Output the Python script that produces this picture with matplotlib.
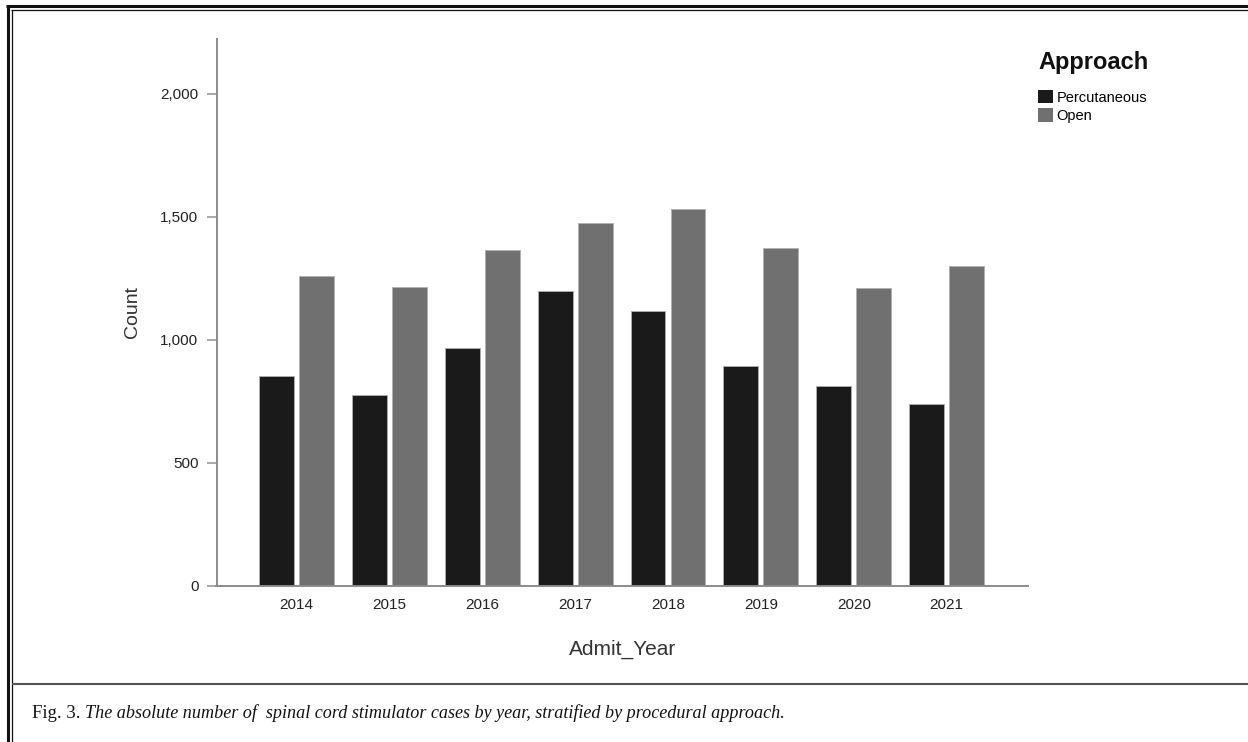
import numpy as np
import matplotlib.pyplot as plt
from matplotlib.lines import Line2D
from matplotlib.ticker import FuncFormatter

# data
years = ["2014", "2015", "2016", "2017", "2018", "2019", "2020", "2021"]
percutaneous = [851, 776, 964, 1196, 1115, 892, 810, 739]
open_cases = [1258, 1214, 1363, 1475, 1529, 1373, 1208, 1298]
series_names = ["Percutaneous", "Open"]
series_colors = ["#1a1a1a", "#707070"]

W, H = 1248, 742
plt.rcParams['font.family'] = ['Liberation Sans', 'DejaVu Sans']

fig = plt.figure(figsize=(W / 100, H / 100), dpi=100)
fig.patch.set_facecolor("white")

# axes placed in pixel terms
left, right, bottom, top = 216.5, 1028, 585.5, 39
ax = fig.add_axes([left / W, 1 - bottom / H, (right - left) / W, (bottom - top) / H])

x = np.arange(len(years))
bw = 0.376
off = 0.215
ax.bar(x - off, percutaneous, bw, color=series_colors[0], edgecolor="#b0b0b0",
       linewidth=0.6, label=series_names[0])
ax.bar(x + off, open_cases, bw, color=series_colors[1], edgecolor="#b0b0b0",
       linewidth=0.6, label=series_names[1])

ax.set_xlim(-0.86, len(years) - 1 + 0.875)
ax.set_ylim(0, 2222)
ax.set_yticks([0, 500, 1000, 1500, 2000])
ax.yaxis.set_major_formatter(FuncFormatter(lambda v, p: f"{int(v):,}"))
ax.set_xticks(x)
ax.set_xticklabels(years)

for s in ["top", "right"]:
    ax.spines[s].set_visible(False)
for s in ["left", "bottom"]:
    ax.spines[s].set_color("#8c8c8c")
    ax.spines[s].set_linewidth(1.4)

ax.tick_params(axis="y", length=7, width=1.2, color="#9a9a9a", labelsize=11,
               labelcolor="#222222", pad=6)
ax.tick_params(axis="x", length=0, labelsize=11, labelcolor="#222222", pad=9)

ax.set_ylabel("Count", fontsize=14, color="#333333", labelpad=14)
ax.set_xlabel("Admit_Year", fontsize=15, color="#333333", labelpad=20)

# legend at top right, title drawn as its own text
fig.text(1038 / W, 1 - 62 / H, "Approach", fontsize=17, fontweight="bold",
         color="#111111", ha="left", va="center")
handles, labels = ax.get_legend_handles_labels()
leg = fig.legend(handles, labels, loc="upper left",
                 bbox_to_anchor=(1031 / W, 1 - 83 / H), frameon=False,
                 fontsize=10.5, handlelength=1.0, handleheight=1.0,
                 handletextpad=0.25, labelspacing=0.25, borderpad=0)
for h in leg.legend_handles:
    h.set_edgecolor("none")

# page frame: double border on top and left, separator above caption
def fline(x0, y0, x1, y1, lw, color):
    fig.add_artist(Line2D([x0 / W, x1 / W], [1 - y0 / H, 1 - y1 / H],
                          transform=fig.transFigure, lw=lw, color=color,
                          solid_capstyle="butt"))

fline(6, 6, W, 6, 2.2, "#111111")
fline(7.5, 6, 7.5, H, 2.2, "#111111")
fline(11, 10, W, 10, 0.9, "#111111")
fline(11.5, 10, 11.5, H, 0.9, "#111111")
fline(12, 683.5, W, 683.5, 1.5, "#555555")

# caption
cap = fig.text(32 / W, 1 - 713 / H, "Fig. 3. ", fontsize=13.5,
               family="Liberation Serif", va="center", ha="left", color="#111111")
fig.canvas.draw()
bb = cap.get_window_extent()
fig.text(bb.x1 / W, 1 - 713 / H,
         "The absolute number of  spinal cord stimulator cases by year, stratified by procedural approach.",
         fontsize=13.1, family="Liberation Serif", style="italic", va="center",
         ha="left", color="#111111")

fig.savefig("out.png", dpi=100)
